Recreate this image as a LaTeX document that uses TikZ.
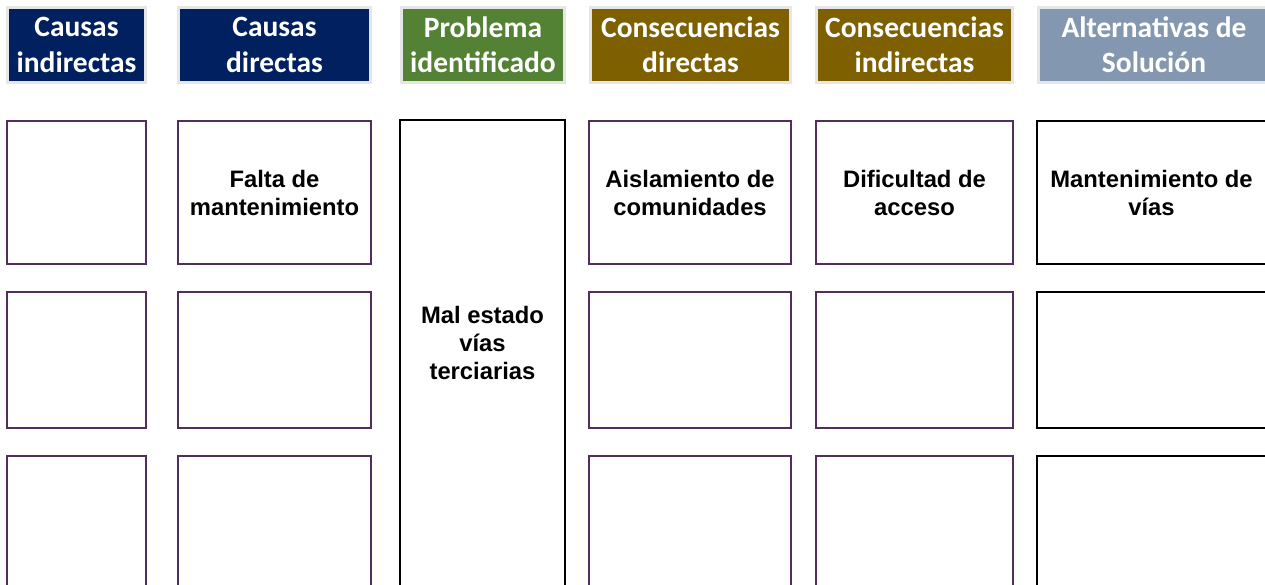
\documentclass[tikz,border=0pt]{standalone}
\usepackage{fontspec}
\setmainfont{Liberation Sans}
\newfontfamily\headfont{Carlito}
\usetikzlibrary{positioning}

\definecolor{causeblue}{HTML}{002060}
\definecolor{probgreen}{HTML}{548235}
\definecolor{consbrown}{HTML}{7F6000}
\definecolor{altgray}{HTML}{8497B0}
\definecolor{cellpurple}{HTML}{522E5C}
\definecolor{headrim}{HTML}{E6E6E6}

\begin{document}
\begin{tikzpicture}[
    x=1pt, y=-1pt,
    % Core styles
    header/.style={
        rectangle, fill=#1, draw=headrim, line width=3pt,
        inner sep=0pt, minimum height=74.5pt, align=center,
        text=white, font=\headfont\bfseries\fontsize{29.5}{35.5}\selectfont
    },
    cell/.style={
        rectangle, draw=cellpurple, line width=1.6pt, fill=white,
        inner sep=0pt, align=center,
        font=\bfseries\fontsize{23.8}{28}\selectfont
    },
    keycell/.style={
        cell, draw=black, line width=1.8pt
    },
    rowA/.style={minimum height=143pt},
    rowB/.style={minimum height=136pt},
    rowC/.style={minimum height=144pt}
]

\useasboundingbox (0,0) rectangle (1265,584);
\clip (0,0) rectangle (1265,584);

% === HEADERS ===
\node[header=causeblue, minimum width=138pt] (hIndirect) at (76.5,44.75) {Causas\\indirectas};
\node[header=causeblue, minimum width=192pt] (hDirect) at (274.5,44.75) {Causas\\directas};
\node[header=probgreen, minimum width=163pt] (hProblem) at (483,44.75) {Problema\\identificado};
\node[header=consbrown, minimum width=200pt] (hConsDirect) at (690.5,44.75) {Consecuencias\\directas};
\node[header=consbrown, minimum width=196pt] (hConsIndirect) at (914.5,44.75) {Consecuencias\\indirectas};
\node[header=altgray, minimum width=231.5pt] (hSolution) at (1154,44.75) {Alternativas de\\Solución};

% === CAUSAS INDIRECTAS ===
\node[cell, rowA, minimum width=139pt] (indA) at (76.5,192.5) {};
\node[cell, rowB, minimum width=139pt] (indB) at (76.5,360) {};
\node[cell, rowC, minimum width=139pt] (indC) at (76.5,528) {};

% === CAUSAS DIRECTAS ===
\node[cell, rowA, minimum width=193pt] (dirA) at (274.5,192.5) {Falta de\\mantenimiento};
\node[cell, rowB, minimum width=193pt] (dirB) at (274.5,360) {};
\node[cell, rowC, minimum width=193pt] (dirC) at (274.5,528) {};

% === PROBLEMA (tall box, runs past the bottom edge) ===
\node[keycell, minimum width=165pt, minimum height=480pt] (problem) at (482.5,360) {};
\node[font=\bfseries\fontsize{23.8}{28}\selectfont, align=center] (problemText) at (482.5,343) {Mal estado\\vías\\terciarias};

% === CONSECUENCIAS DIRECTAS ===
\node[cell, rowA, minimum width=202pt] (conA) at (690,192.5) {Aislamiento de\\comunidades};
\node[cell, rowB, minimum width=202pt] (conB) at (690,360) {};
\node[cell, rowC, minimum width=202pt] (conC) at (690,528) {};

% === CONSECUENCIAS INDIRECTAS ===
\node[cell, rowA, minimum width=197pt] (cinA) at (914.5,192.5) {Dificultad de\\acceso};
\node[cell, rowB, minimum width=197pt] (cinB) at (914.5,360) {};
\node[cell, rowC, minimum width=197pt] (cinC) at (914.5,528) {};

% === ALTERNATIVAS DE SOLUCION ===
\node[keycell, rowA, minimum width=229pt] (altA) at (1151.5,192.5) {Mantenimiento de\\vías};
\node[keycell, rowB, minimum width=229pt] (altB) at (1151.5,360) {};
\node[keycell, rowC, minimum width=229pt] (altC) at (1151.5,528) {};

\end{tikzpicture}
\end{document}
